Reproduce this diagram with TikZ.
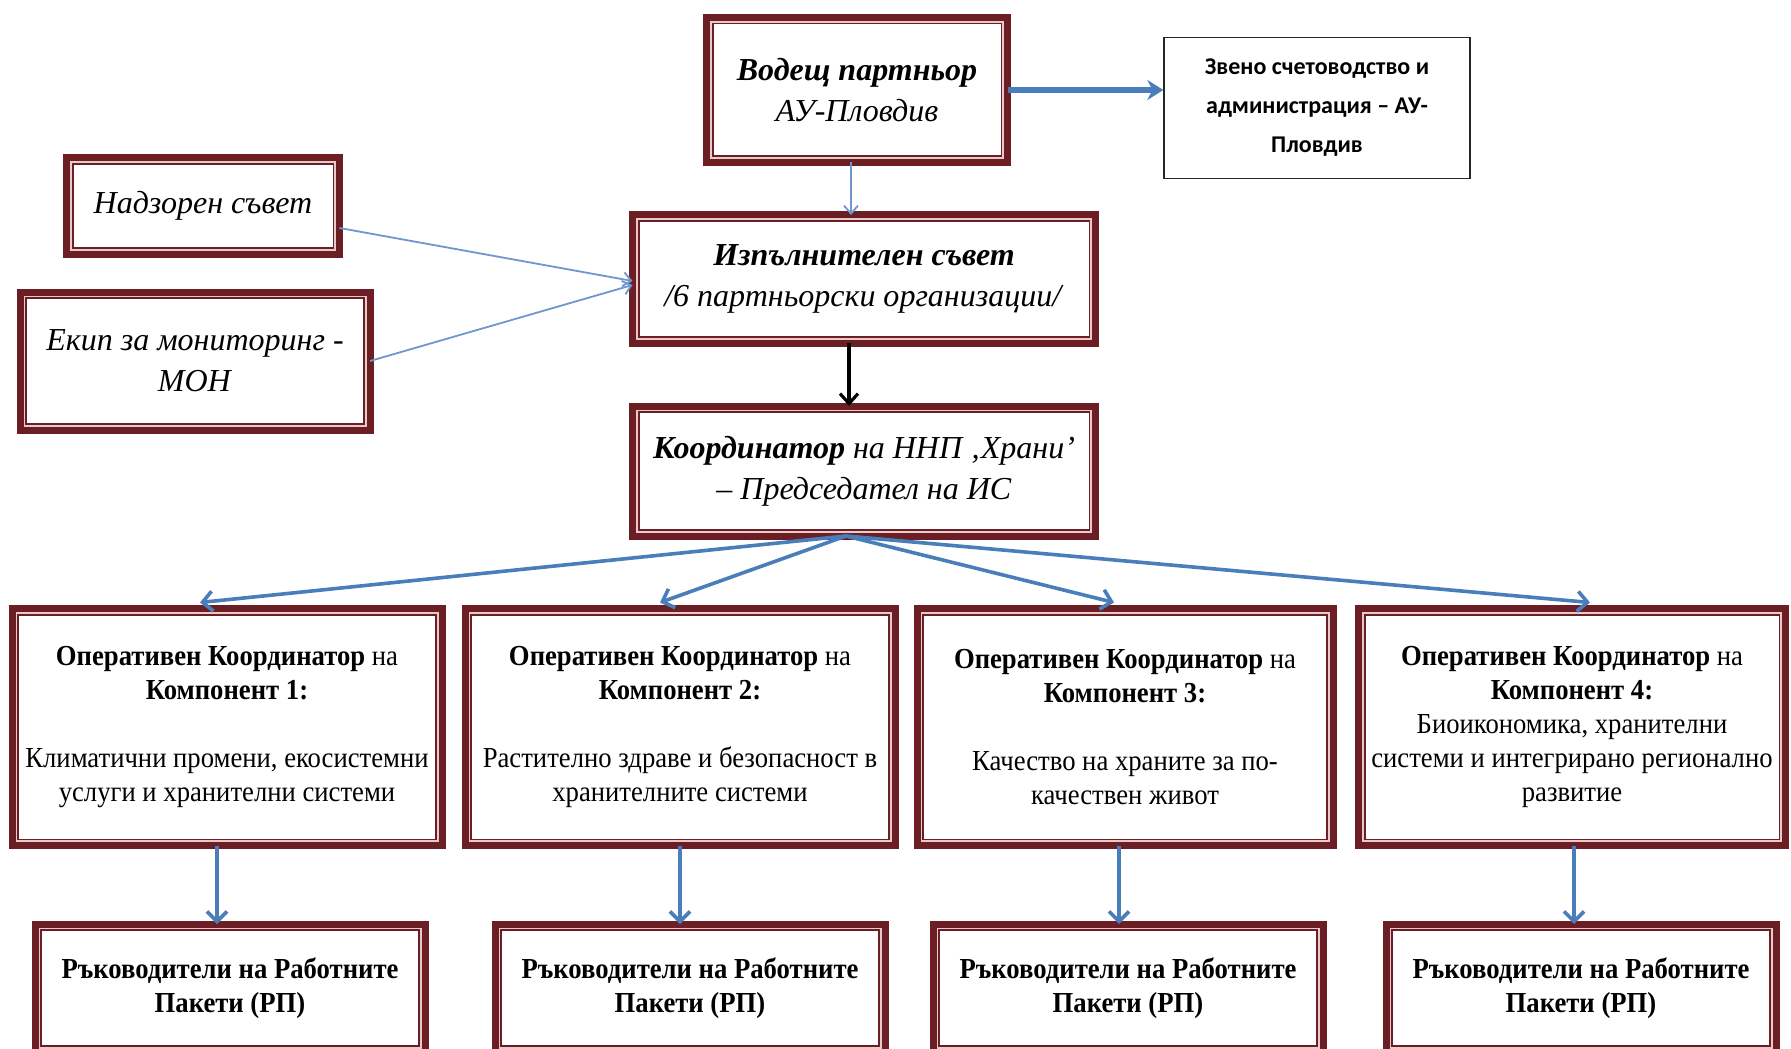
\documentclass[tikz,border=0pt]{standalone}
\usepackage{fontspec}
\setmainfont{Liberation Serif}
\newfontfamily\calibfont{Carlito}
\newfontfamily\narrowfont[FakeStretch=0.92]{Liberation Serif}
\usepackage{tikz}
\usetikzlibrary{arrows.meta}

\definecolor{boxred}{HTML}{6B1F24}
\definecolor{boxpink}{HTML}{E9C9C9}
\definecolor{linkblue}{HTML}{4A7EBB}
\definecolor{thinblue}{HTML}{7196CF}

\begin{document}
\begin{tikzpicture}[
                x=0.5pt, y=-0.5pt, % one unit = one pixel of the chart, y downwards
                frame/.style={draw=boxred, line width=3.5pt, fill=boxpink, align=center,
                  inner sep=0pt, outer sep=0pt,
                  path picture={\filldraw[fill=white, draw=boxred, line width=0.8pt]
                    ([shift={(3.1pt,3.1pt)}]path picture bounding box.south west) rectangle
                    ([shift={(-3.1pt,-3.1pt)}]path picture bounding box.north east);}}, % double red frame
                plainbox/.style={draw=black!85, line width=0.7pt, fill=white, align=center,
                  font=\calibfont\bfseries\fontsize{12}{19.5}\selectfont}, % thin box on the right
                topfont/.style={font=\fontsize{16}{20.5}\selectfont}, % italic upper boxes
                compfont/.style={font=\narrowfont\fontsize{14.5}{17}\selectfont}, % component boxes
                link/.style={draw=linkblue, line width=1.8pt, -{Straight Barb[length=5pt, width=10pt]}},
                thinlink/.style={draw=thinblue, line width=0.9pt, -{Straight Barb[length=4pt, width=7pt]}}
                ]
\useasboundingbox (0,0) rectangle (1791,1048);

% upper part
\node[frame, topfont, minimum width=150.5pt, minimum height=72.5pt] (lead) at (857,90)
  {\textbf{\textit{Водещ партньор}}\\\textit{АУ-Пловдив}};
\node[plainbox, minimum width=153pt, minimum height=70.5pt] (acct) at (1317,108)
  {Звено счетоводство и\\администрация – АУ-\\Пловдив};
\node[frame, topfont, minimum width=136.5pt, minimum height=48pt] (board) at (203,206)
  {\textit{Надзорен съвет}};
\node[frame, topfont, minimum width=175pt, minimum height=69pt] (monitor) at (195,361)
  {\textit{Екип за мониторинг -}\\\textit{МОН}};
\node[frame, topfont, minimum width=231.5pt, minimum height=64pt] (exec) at (864,279)
  {\textbf{\textit{Изпълнителен съвет}}\\\textit{/6 партньорски организации/}};
\node[frame, topfont, minimum width=231.5pt, minimum height=65pt] (coord) at (864,471)
  {\textbf{\textit{Координатор}} \textit{на ННП ‚Храни’}\\\textit{– Председател на ИС}};

% components
\node[frame, compfont, minimum width=215pt, minimum height=118.5pt] (comp1) at (227,727)
  {\textbf{Оперативен Координатор} на\\\textbf{Компонент 1:}\\[17pt]Климатични промени, екосистемни\\услуги и хранителни системи};
\node[frame, compfont, minimum width=215pt, minimum height=118.5pt] (comp2) at (680,727)
  {\textbf{Оперативен Координатор} на\\\textbf{Компонент 2:}\\[17pt]Растително здраве и безопасност в\\хранителните системи};
\node[frame, compfont, minimum width=208pt, minimum height=118.5pt] (comp3) at (1125,727)
  {\textbf{Оперативен Координатор} на\\\textbf{Компонент 3:}\\[17pt]Качество на храните за по-\\качествен живот};
\node[frame, compfont, minimum width=213.5pt, minimum height=118.5pt] (comp4) at (1572,727)
  {\textbf{Оперативен Координатор} на\\\textbf{Компонент 4:}\\Биоикономика, хранителни\\системи и интегрирано регионално\\развитие};

% work package leaders, cut by the lower edge
\foreach \i/\cx in {1/230, 2/690, 3/1128, 4/1581}
  \node[frame, compfont, minimum width=195pt, minimum height=64pt] (wp\i) at (\cx,988)
    {\textbf{Ръководители на Работните}\\\textbf{Пакети (РП)}};

% connectors
\draw[link, line width=2.6pt, -{Stealth[length=8pt, width=10pt]}] (lead.east) -- (lead.east -| acct.west);
\draw[thinlink] ([xshift=-3pt]lead.south) -- ([xshift=-6.5pt]exec.north);
\draw[thinlink] ([yshift=-11pt]board.east) -- ([yshift=-1pt]exec.west);
\draw[thinlink] (monitor.east) -- ([yshift=-3pt]exec.west);
\draw[line width=1.6pt, -{Straight Barb[length=5pt, width=9pt]}] ([xshift=-7.5pt]exec.south) -- ([xshift=-7.5pt]coord.north);
\draw[link] ([xshift=-9pt]coord.south) -- ([xshift=-13.5pt, yshift=3pt]comp1.north);
\draw[link] ([xshift=-9pt]coord.south) -- ([xshift=-10pt, yshift=3pt]comp2.north);
\draw[link] ([xshift=-9pt]coord.south) -- ([xshift=-5.5pt, yshift=3pt]comp3.north);
\draw[link] ([xshift=-9pt]coord.south) -- ([xshift=9pt, yshift=3pt]comp4.north);
\foreach \i/\dx in {1/-5pt, 2/0pt, 3/-3pt, 4/1pt}
  \draw[link] ([xshift=\dx]comp\i.south) -- ([xshift=\dx]comp\i.south |- wp\i.north);
\end{tikzpicture}
\end{document}
